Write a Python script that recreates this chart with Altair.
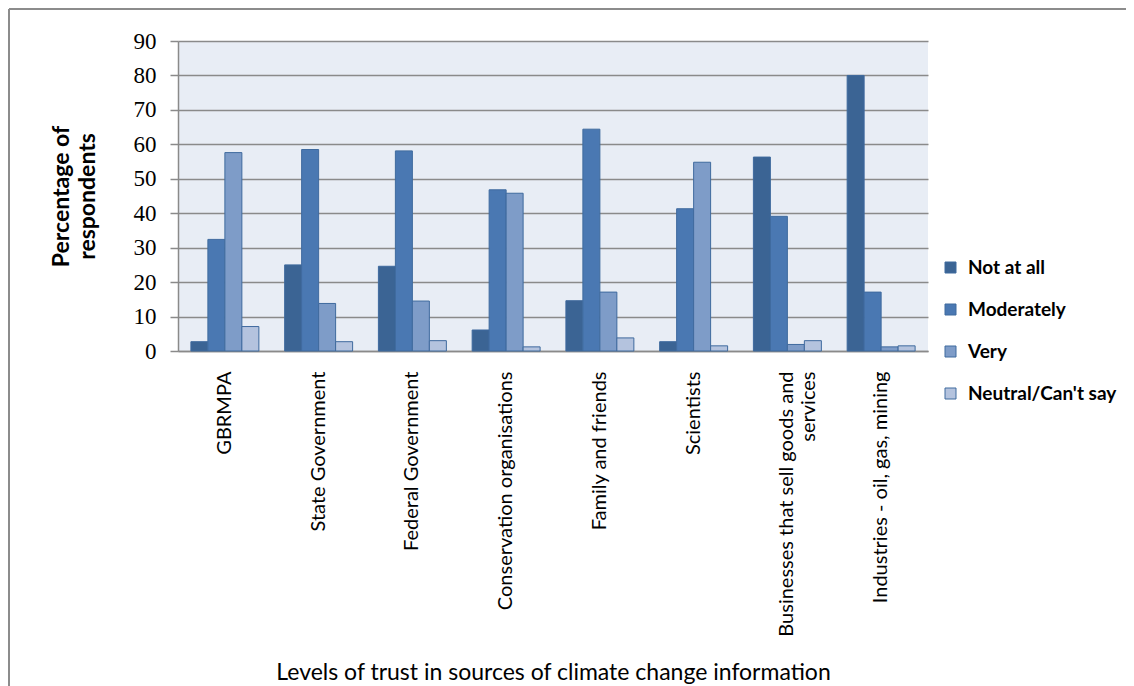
import altair as alt
import pandas as pd

categories = [
    "GBRMPA",
    "State Government",
    "Federal Government",
    "Conservation organisations",
    "Family and friends",
    "Scientists",
    "Businesses that sell goods and services",
    "Industries - oil, gas, mining",
]
series = ["Not at all", "Moderately", "Very", "Neutral/Can't say"]
not_at_all = [2.7, 25.0, 24.6, 6.1, 14.6, 2.7, 56.3, 80.0]
moderately = [32.4, 58.5, 58.1, 46.8, 64.4, 41.3, 39.1, 17.1]
very = [57.6, 13.8, 14.5, 45.8, 17.1, 54.8, 1.9, 1.2]
neutral = [7.1, 2.7, 3.0, 1.2, 3.8, 1.5, 3.0, 1.5]
y_ticks = [0, 10, 20, 30, 40, 50, 60, 70, 80, 90]

colors = ["#3B6494", "#4A78B2", "#7E9CC8", "#B4C3DE"]

rows = []
for s, vals in zip(series, [not_at_all, moderately, very, neutral]):
    for c, v in zip(categories, vals):
        rows.append({"Source": c, "Trust": s, "Value": v})
df = pd.DataFrame(rows)

label_expr = ("datum.label == 'Businesses that sell goods and services' ? "
              "['Businesses that sell goods and', 'services'] : datum.label")

bars = alt.Chart(df).mark_bar(stroke="#3F6A9E", strokeWidth=1).encode(
    x=alt.X("Source:N", sort=categories,
            scale=alt.Scale(paddingInner=0.275, paddingOuter=0.1375),
            axis=alt.Axis(title="Levels of trust in sources of climate change information",
                          labelAngle=-90, labelAlign="right", labelBaseline="middle",
                          labelPadding=20, ticks=False, labelExpr=label_expr,
                          labelFont="Lato", labelFontSize=20, labelColor="#000000",
                          labelLimit=400,
                          titleFont="Lato", titleFontSize=23, titleFontWeight="normal",
                          titleColor="#000000", titleY=321, titleBaseline="middle",
                          domainColor="#8A8A8A", domainWidth=1.5)),
    xOffset=alt.XOffset("Trust:N", sort=series, scale=alt.Scale(paddingInner=0, paddingOuter=0)),
    y=alt.Y("Value:Q", scale=alt.Scale(domain=[0, 90], nice=False),
            axis=alt.Axis(title=["Percentage of", "respondents"], values=y_ticks,
                          labelFont="Liberation Serif", labelFontSize=23, labelColor="#000000",
                          labelPadding=14, tickSize=8, tickColor="#8A8A8A", tickWidth=1.5,
                          domainColor="#8A8A8A", domainWidth=1.5,
                          gridColor="#8A8A8A", gridWidth=1.5,
                          titleFont="Lato", titleFontSize=23, titleFontWeight="bold",
                          titleColor="#000000", titleX=-117, titleY=155,
                          titleLineHeight=26,
                          titleAngle=270, titleBaseline="middle", titleAlign="center")),
    color=alt.Color("Trust:N", sort=series,
                    scale=alt.Scale(domain=series, range=colors),
                    legend=alt.Legend(title=None, orient="none", legendX=763, legendY=217,
                                      symbolType="square", symbolSize=121,
                                      symbolStrokeColor="#3F6A9E", symbolStrokeWidth=1,
                                      symbolOpacity=1,
                                      labelFont="Lato", labelFontSize=19, labelFontWeight="bold",
                                      labelColor="#000000", labelOffset=8, rowPadding=22,
                                      padding=0)),
)

frame_src = pd.DataFrame({"k": [0]})
top_line = alt.Chart(frame_src).mark_rule(color="#8C8C8C", strokeWidth=2).encode(
    x=alt.value(-169), x2=alt.value(960), y=alt.value(-32))
left_line = alt.Chart(frame_src).mark_rule(color="#8C8C8C", strokeWidth=2).encode(
    x=alt.value(-169), y=alt.value(-32), y2=alt.value(700))

chart = alt.layer(bars, top_line, left_line).properties(
    width=750, height=310,
    autosize=alt.AutoSizeParams(type="none"),
    padding={"left": 170, "top": 33, "right": 198, "bottom": 345},
    background="#FFFFFF",
).configure_view(fill="#E8EDF5", stroke=None)

chart.save("out.html", embed_options={"renderer": "svg", "actions": False})
